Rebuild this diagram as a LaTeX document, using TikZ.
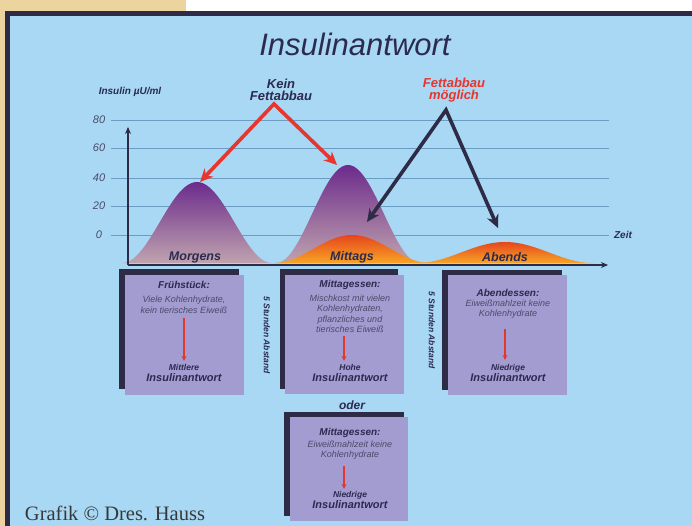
\documentclass[tikz,border=0pt]{standalone}
\usepackage{fontspec}
\setsansfont{Liberation Sans}
\newfontfamily\creditfont{Liberation Serif}
\usepackage{tikz}
\usetikzlibrary{arrows.meta}
\definecolor{skyback}{HTML}{A8D8F3}
\definecolor{sandback}{HTML}{EBD49E}
\definecolor{inkblue}{HTML}{2C2A50}
\definecolor{framenavy}{HTML}{2E2B47}
\definecolor{gridblue}{HTML}{6B9DC3}
\definecolor{lavender}{HTML}{A29CD0}
\definecolor{peakpurple}{HTML}{6C2B8C}
\definecolor{peakgrey}{HTML}{BFA3AE}
\definecolor{hotorange}{HTML}{E6461C}
\definecolor{warmorange}{HTML}{F7A526}
\definecolor{alarmred}{HTML}{E8352D}
\tikzset{gridline/.style={draw=gridblue, line width=0.8pt},
  ticklabel/.style={font=\sffamily\itshape\fontsize{11}{11}\selectfont, text=inkblue!85},
  meallabel/.style={font=\sffamily\bfseries\itshape\fontsize{12.5}{12.5}\selectfont, text=inkblue},
  hint/.style={font=\sffamily\bfseries\itshape\fontsize{13}{12}\selectfont, align=center},
  gap/.style={font=\sffamily\bfseries\itshape\fontsize{8.5}{8.5}\selectfont, text=inkblue, rotate=-90},
  mealshadow/.style={fill=framenavy},
  mealbox/.style={fill=lavender},
  boxhead/.style={font=\sffamily\bfseries\itshape\fontsize{10}{10}\selectfont, text=inkblue, inner sep=0pt},
  boxbody/.style={font=\sffamily\itshape\fontsize{9}{10.5}\selectfont, text=inkblue!85, align=center, inner sep=0pt},
  boxresult/.style={font=\sffamily\bfseries\itshape\fontsize{11}{11.5}\selectfont, text=inkblue, align=center, inner sep=0pt},
  boxarrow/.style={draw=alarmred, line width=1.5pt, -{Stealth[length=5pt,width=5pt]}},
  bigarrow/.style={line width=3.6pt, {Stealth[length=13pt,width=12pt]}-{Stealth[length=13pt,width=12pt]}}}

\begin{document}
\begin{tikzpicture}[x=1pt, y=-1pt]
    \useasboundingbox (0,0) rectangle (692,526);
    \fill[white] (0,0) rectangle (692,526);
    \fill[sandback] (0,0) rectangle (186,12);
    \fill[sandback] (0,0) rectangle (6,526);
    \fill[skyback] (6,12) rectangle (692,526);
    \fill[framenavy] (5,11) rectangle (692,16);
    \fill[framenavy] (5,11) rectangle (10,526);
    \node[font=\sffamily\itshape\fontsize{31}{31}\selectfont, text=inkblue] (title) at (355,44) {Insulinantwort};

    \foreach \yv/\val in {120/80, 148/60, 178/40, 206/20, 235/0} {
      \draw[gridline] (111,\yv) -- (609,\yv);
      \node[ticklabel] (tick\val) at (99,\yv) {\val};
    }
    \node[font=\sffamily\bfseries\itshape\fontsize{10}{10}\selectfont, text=inkblue] (yaxis) at (130,92) {Insulin µU/ml};
    \node[font=\sffamily\bfseries\itshape\fontsize{10}{10}\selectfont, text=inkblue] (zeit) at (623,235) {Zeit};

    \shade[top color=peakpurple, bottom color=peakgrey] plot[domain=122:272, samples=60] (\x, {263-81*(1+cos(180*(\x-197)/75))/2}) -- cycle;
    \shade[top color=peakpurple, bottom color=peakgrey] plot[domain=276:420, samples=60] (\x, {263-98*(1+cos(180*(\x-348)/72))/2}) -- cycle;
    \shade[top color=hotorange, bottom color=warmorange] plot[domain=274:430, samples=60] (\x, {263-28*(1+cos(180*(\x-352)/78))/2}) -- cycle;
    \shade[top color=hotorange, bottom color=warmorange] plot[domain=417:593, samples=60] (\x, {263-21*(1+cos(180*(\x-505)/88))/2}) -- cycle;

    \coordinate (origin) at (128,265);
    \coordinate (ytop) at (128,127);
    \coordinate (xend) at (608,265);
    \draw[framenavy, line width=2pt, -{Stealth[length=7pt,width=6pt]}] (origin) -- (ytop);
    \draw[framenavy, line width=2pt, -{Stealth[length=7pt,width=6pt]}] (origin) -- (xend);

    \node[meallabel] (morgens) at (195,257) {Morgens};
    \node[meallabel] (mittags) at (352,257) {Mittags};
    \node[meallabel] (abends) at (505,257) {Abends};

    \node[hint, text=inkblue] (kein) at (281,90) {Kein\\Fettabbau};
    \node[hint, text=alarmred] (moeglich) at (454,90) {Fettabbau\\möglich};
    \coordinate (keinapex) at (274,104);
    \coordinate (morgenstip) at (200,182);
    \coordinate (mittagstip) at (337,165);
    \coordinate (moeglichapex) at (446,110);
    \coordinate (mittagsfat) at (367,222);
    \coordinate (abendsfat) at (498,228);
    \draw[bigarrow, alarmred] (morgenstip) -- (keinapex) -- (mittagstip);
    \draw[bigarrow, framenavy] (mittagsfat) -- (moeglichapex) -- (abendsfat);

    \fill[mealshadow] (119,269) rectangle (239,389);
    \fill[mealbox] (125,275) rectangle (244,395);
    \node[boxhead] (fruehhead) at (184,285) {Frühstück:};
    \node[boxbody] (fruehbody) at (184,305) {Viele Kohlenhydrate,\\kein tierisches Eiweiß};
    \node[boxresult] (fruehresult) at (184,373) {{\fontsize{8.5}{10}\selectfont Mittlere}\\Insulinantwort};
    \draw[boxarrow, shorten <=4pt, shorten >=3pt] (fruehbody) -- (fruehresult);

    \node[gap] (gapone) at (267,335) {5 Stunden Abstand};

    \fill[mealshadow] (280,269) rectangle (398,389);
    \fill[mealbox] (285,275) rectangle (404,394);
    \node[boxhead] (mittaghead) at (350,285) {Mittagessen:};
    \node[boxbody] (mittagbody) at (350,314) {Mischkost mit vielen\\Kohlenhydraten,\\pflanzliches und\\tierisches Eiweiß};
    \node[boxresult] (mittagresult) at (350,373) {{\fontsize{8.5}{10}\selectfont Hohe}\\Insulinantwort};
    \draw[boxarrow, shorten <=3pt, shorten >=3pt] ([xshift=-6pt]mittagbody.south) -- ([xshift=-6pt]mittagresult.north);

    \node[gap] (gaptwo) at (432,330) {5 Stunden Abstand};

    \fill[mealshadow] (442,270) rectangle (562,390);
    \fill[mealbox] (448,275) rectangle (567,395);
    \node[boxhead] (abendhead) at (508,293) {Abendessen:};
    \node[boxbody] (abendbody) at (508,309) {Eiweißmahlzeit keine\\Kohlenhydrate};
    \node[boxresult] (abendresult) at (508,373) {{\fontsize{8.5}{10}\selectfont Niedrige}\\Insulinantwort};
    \draw[boxarrow, shorten <=10pt, shorten >=4pt] ([xshift=-3pt]abendbody.south) -- ([xshift=-3pt]abendresult.north);

    \node[meallabel, font=\sffamily\bfseries\itshape\fontsize{12}{12}\selectfont] (oder) at (352,405) {oder};

    \fill[mealshadow] (284,412) rectangle (404,516);
    \fill[mealbox] (290,417) rectangle (408,521);
    \node[boxhead] (althead) at (350,433) {Mittagessen:};
    \node[boxbody] (altbody) at (350,450) {Eiweißmahlzeit keine\\Kohlenhydrate};
    \node[boxresult] (altresult) at (350,500) {{\fontsize{8.5}{10}\selectfont Niedrige}\\Insulinantwort};
    \draw[boxarrow, shorten <=6pt, shorten >=2pt] ([xshift=-6pt]altbody.south) -- ([xshift=-6pt]altresult.north);

    \node[font=\creditfont\fontsize{20.5}{20.5}\selectfont, text=black!78] (credit) at (115,513) {Grafik © Dres. Hauss};
  \end{tikzpicture}
\end{document}
